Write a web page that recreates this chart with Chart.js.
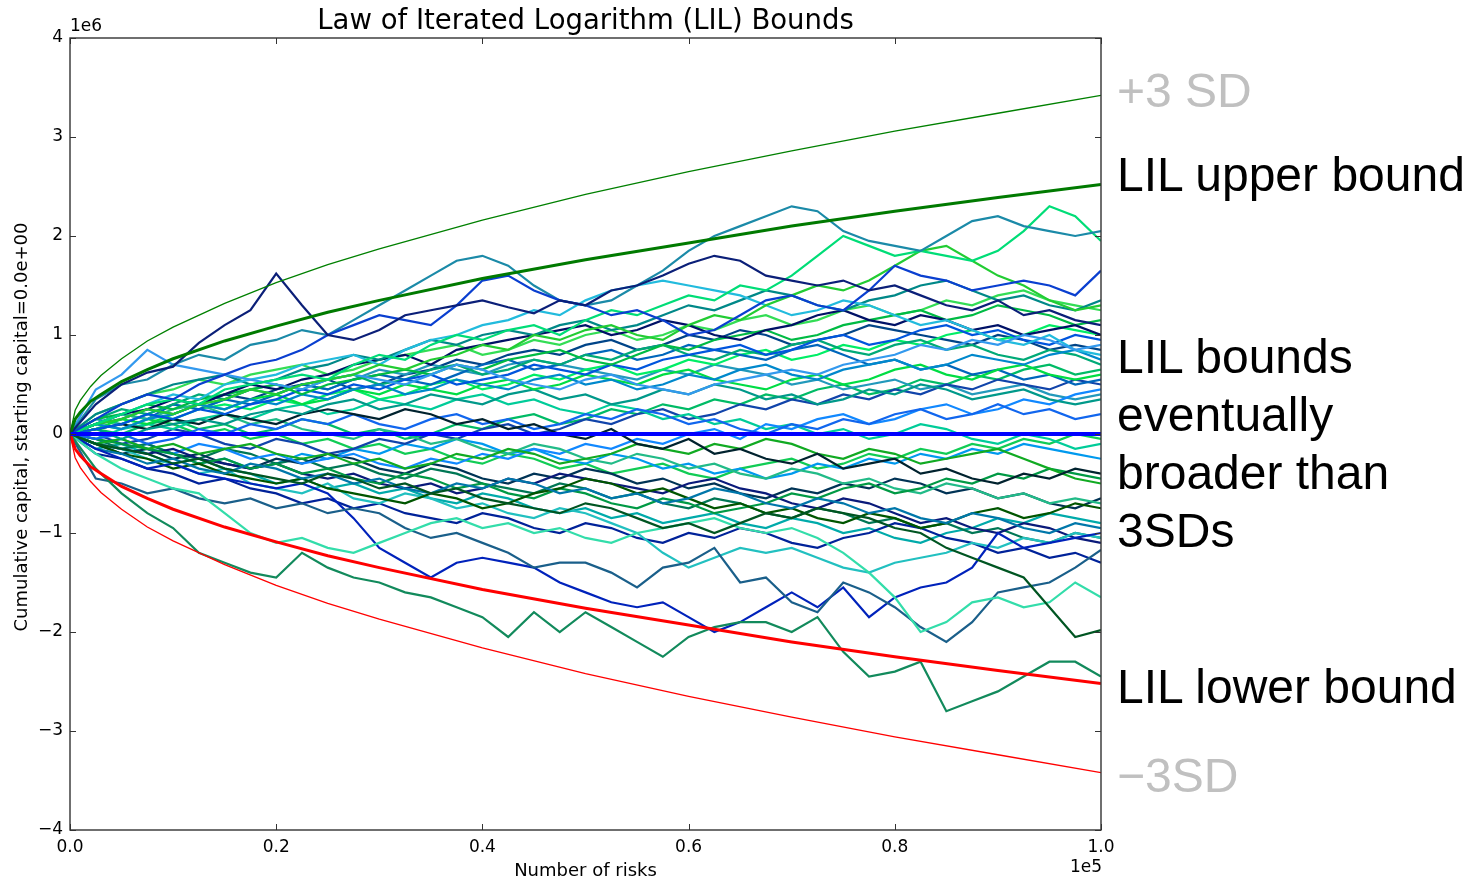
<!DOCTYPE html>
<html>
<head>
<title>Law of Iterated Logarithm (LIL) Bounds</title>
<style>
  body { margin: 0; background: #fff; }
  #wrap { position: relative; width: 1481px; height: 879px; }
  .note {
    position: absolute; left: 1117px; white-space: nowrap; color: #000;
    font-family: "Liberation Sans", Arial, sans-serif; font-size: 48px; line-height: 58px;
  }
  .grey { color: #c0c0c0; }
</style>
</head>
<body>
<div id="wrap">
  <canvas id="lilChart" width="1481" height="879"></canvas>
  <div class="note grey" style="top:62px">+3 SD</div>
  <div class="note" style="top:146px">LIL upper bound</div>
  <div class="note" style="top:328px">LIL bounds<br>eventually<br>broader than<br>3SDs</div>
  <div class="note" style="top:658px">LIL lower bound</div>
  <div class="note grey" style="top:747px">&minus;3SD</div>
</div>
<script src="https://cdn.jsdelivr.net/npm/chart.js"></script>
<script>
// x positions (number of risks) of the sampled walk points
const steps = [0,2500,5000,7500,10000,12500,15000,17500,20000,22500,
  25000,27500,30000,32500,35000,37500,40000,42500,45000,47500,
  50000,52500,55000,57500,60000,62500,65000,67500,70000,72500,
  75000,77500,80000,82500,85000,87500,90000,92500,95000,97500,100000];

// bound curves, values in units of 1e6
const boundSteps = [0,500,1000,2000,3000,5000,7500,10000,15000,20000,25000,30000,40000,50000,60000,70000,80000,90000,100000];
const plus3sd  = [0,0.24,0.34,0.48,0.59,0.76,0.94,1.08,1.32,1.53,1.71,1.87,2.16,2.42,2.65,2.86,3.06,3.24,3.42];
const lilUpper = [0,0.15,0.22,0.33,0.40,0.53,0.65,0.76,0.94,1.09,1.23,1.35,1.57,1.76,1.93,2.10,2.25,2.39,2.52];
const lilLower = [0,-0.15,-0.22,-0.33,-0.40,-0.53,-0.65,-0.76,-0.94,-1.09,-1.23,-1.35,-1.57,-1.76,-1.93,-2.10,-2.25,-2.39,-2.52];
const minus3sd = [0,-0.24,-0.34,-0.48,-0.59,-0.76,-0.94,-1.08,-1.32,-1.53,-1.71,-1.87,-2.16,-2.42,-2.65,-2.86,-3.06,-3.24,-3.42];
const meanSteps = [0, 100000];
const meanLine = [0, 0];

// simulated capital paths (1e6)
const walk01 = [0,0.3,0.5,0.62,0.68,0.92,1.1,1.25,1.62,1.3,1.0,0.95,1.05,1.2,1.25,1.3,1.35,1.28,1.22,1.35,1.3,1.45,1.5,1.6,1.72,1.8,1.75,1.6,1.55,1.5,1.55,1.45,1.5,1.4,1.3,1.25,1.35,1.2,1.25,1.15,1.1];
const walk02 = [0,0.15,0.3,0.4,0.35,0.5,0.6,0.7,0.75,0.85,1.0,1.1,1.2,1.15,1.1,1.3,1.55,1.6,1.45,1.35,1.3,1.2,1.25,1.15,1.0,1.05,1.2,1.35,1.4,1.3,1.25,1.45,1.7,1.6,1.55,1.45,1.5,1.55,1.5,1.4,1.65];
const walk03 = [0,0.35,0.5,0.55,0.7,0.8,0.75,0.9,0.95,1.05,1.0,1.15,1.3,1.45,1.6,1.75,1.8,1.7,1.5,1.35,1.3,1.35,1.5,1.65,1.85,2.0,2.1,2.2,2.3,2.25,2.05,1.95,1.9,1.85,2.0,2.15,2.2,2.1,2.05,2.0,2.05];
const walk04 = [0,0.1,0.2,0.3,0.35,0.3,0.45,0.5,0.55,0.6,0.55,0.7,0.8,0.75,0.9,1.0,0.95,1.05,1.1,1.0,1.15,1.25,1.2,1.3,1.4,1.35,1.5,1.45,1.6,1.8,2.0,1.9,1.8,1.85,1.8,1.75,1.85,2.05,2.3,2.2,1.95];
const walk05 = [0,0.1,0.15,0.25,0.2,0.3,0.35,0.45,0.4,0.5,0.55,0.6,0.7,0.65,0.75,0.8,0.9,0.85,1.0,0.95,1.05,1.1,1.0,0.95,1.1,1.2,1.15,1.3,1.4,1.5,1.45,1.55,1.7,1.85,1.9,1.75,1.6,1.5,1.35,1.25,1.3];
const walk06 = [0,-0.1,-0.15,-0.2,-0.3,-0.25,-0.35,-0.4,-0.45,-0.5,-0.4,-0.45,-0.55,-0.5,-0.6,-0.55,-0.65,-0.7,-0.75,-0.8,-0.7,-0.75,-0.85,-0.95,-0.9,-1.0,-0.9,-0.8,-0.85,-0.75,-0.8,-0.85,-0.95,-1.0,-1.15,-1.25,-1.35,-1.45,-1.75,-2.05,-1.98];
const walk07 = [0,-0.35,-0.6,-0.8,-0.95,-1.2,-1.3,-1.4,-1.45,-1.2,-1.35,-1.45,-1.5,-1.6,-1.65,-1.75,-1.85,-2.05,-1.8,-2.0,-1.8,-1.95,-2.1,-2.25,-2.05,-1.95,-1.9,-1.9,-2.0,-1.85,-2.2,-2.45,-2.4,-2.3,-2.8,-2.7,-2.6,-2.45,-2.3,-2.3,-2.45];
const walk08 = [0,-0.2,-0.35,-0.45,-0.55,-0.6,-0.8,-1.0,-1.1,-1.05,-1.15,-1.2,-1.1,-1.0,-0.9,-0.85,-0.95,-0.9,-1.0,-0.95,-1.05,-1.1,-1.0,-0.95,-0.9,-0.85,-0.95,-1.0,-0.95,-1.05,-1.2,-1.4,-1.65,-2.0,-1.9,-1.7,-1.65,-1.75,-1.7,-1.5,-1.65];
const walk09 = [0,-0.45,-0.5,-0.6,-0.55,-0.65,-0.7,-0.65,-0.75,-0.7,-0.8,-0.75,-0.8,-0.95,-1.05,-1.0,-1.1,-1.2,-1.35,-1.3,-1.3,-1.4,-1.55,-1.35,-1.3,-1.15,-1.5,-1.45,-1.7,-1.8,-1.5,-1.6,-1.75,-1.95,-2.1,-1.9,-1.6,-1.55,-1.5,-1.35,-1.17];
const walk10 = [0,-0.15,-0.25,-0.35,-0.3,-0.4,-0.45,-0.5,-0.55,-0.5,-0.6,-0.85,-1.15,-1.3,-1.45,-1.3,-1.25,-1.3,-1.35,-1.5,-1.6,-1.7,-1.75,-1.7,-1.85,-2.0,-1.9,-1.75,-1.6,-1.75,-1.55,-1.85,-1.65,-1.55,-1.5,-1.35,-1.0,-1.15,-1.1,-1.05,-1.0];
const walk11 = [0,0.45,0.6,0.85,0.7,0.65,0.6,0.55,0.5,0.45,0.55,0.6,0.55,0.5,0.6,0.7,0.65,0.55,0.5,0.45,0.55,0.6,0.5,0.45,0.4,0.5,0.55,0.6,0.65,0.6,0.7,0.75,0.8,0.9,0.85,0.95,0.9,1.0,0.95,0.85,0.9];
const walk12 = [0,0.1,0.2,0.3,0.4,0.35,0.5,0.55,0.6,0.7,0.75,0.8,0.7,0.85,0.95,1.0,1.1,1.15,1.25,1.2,1.35,1.45,1.5,1.55,1.5,1.45,1.4,1.3,1.2,1.25,1.35,1.3,1.2,1.1,1.15,1.05,0.95,0.9,1.0,0.85,0.8];
const walk13 = [0,0.2,0.3,0.4,0.5,0.55,0.6,0.5,0.55,0.65,0.7,0.8,0.75,0.85,0.95,0.9,1.0,1.05,1.0,1.1,1.15,1.05,1.1,1.2,1.3,1.25,1.35,1.45,1.4,1.3,1.25,1.35,1.4,1.5,1.55,1.45,1.35,1.4,1.3,1.25,1.35];
const walk14 = [0,0.1,0.2,0.25,0.35,0.3,0.4,0.5,0.45,0.55,0.6,0.7,0.75,0.8,0.7,0.85,0.9,0.95,1.0,1.05,1.1,1.0,1.05,1.15,1.1,1.0,0.95,1.05,1.1,1.2,1.25,1.15,1.1,1.2,1.15,1.05,1.1,1.0,1.05,1.1,1.0];
const walk15 = [0,0.15,0.2,0.3,0.25,0.35,0.4,0.45,0.5,0.4,0.5,0.55,0.6,0.65,0.6,0.7,0.65,0.75,0.8,0.85,0.75,0.7,0.8,0.9,0.85,0.95,1.0,1.05,0.95,1.0,1.1,1.15,1.2,1.25,1.15,1.2,1.3,1.25,1.2,1.1,1.15];
const walk16 = [0,0.05,0.1,0.2,0.15,0.25,0.2,0.3,0.35,0.45,0.4,0.5,0.45,0.55,0.6,0.5,0.55,0.6,0.7,0.65,0.6,0.7,0.65,0.75,0.8,0.85,0.9,0.8,0.85,0.95,1.0,0.9,0.95,1.05,1.1,1.0,1.05,0.95,0.9,1.0,0.95];
const walk17 = [0,0.1,0.05,0.15,0.2,0.3,0.25,0.35,0.3,0.4,0.35,0.45,0.5,0.4,0.45,0.55,0.5,0.45,0.55,0.6,0.5,0.55,0.45,0.5,0.6,0.55,0.65,0.7,0.6,0.55,0.65,0.7,0.75,0.65,0.7,0.8,0.75,0.7,0.8,0.85,0.75];
const walk18 = [0,0.05,0.15,0.1,0.2,0.3,0.25,0.35,0.4,0.3,0.35,0.45,0.4,0.5,0.45,0.4,0.5,0.55,0.45,0.5,0.6,0.55,0.5,0.6,0.65,0.55,0.5,0.45,0.55,0.6,0.5,0.55,0.65,0.7,0.6,0.55,0.65,0.7,0.6,0.55,0.6];
const walk19 = [0,0.05,-0.05,0.05,0.1,0.15,0.1,0.2,0.25,0.2,0.3,0.35,0.25,0.3,0.4,0.35,0.3,0.4,0.45,0.35,0.4,0.3,0.35,0.45,0.4,0.5,0.45,0.35,0.4,0.3,0.35,0.45,0.4,0.5,0.45,0.35,0.4,0.45,0.35,0.3,0.35];
const walk20 = [0,0.05,0.1,0.05,0.15,0.1,0.2,0.15,0.1,0.2,0.25,0.2,0.15,0.25,0.2,0.1,0.15,0.05,0.1,0.0,-0.05,0.05,-0.1,-0.15,-0.05,-0.2,-0.15,-0.25,-0.3,-0.2,-0.35,-0.3,-0.25,-0.4,-0.35,-0.45,-0.5,-0.4,-0.45,-0.35,-0.4];
const walk21 = [0,-0.05,0.0,-0.1,-0.05,0.05,0.0,0.1,0.05,0.15,0.1,0.2,0.1,0.05,0.15,0.2,0.1,0.15,0.05,0.1,0.2,0.15,0.25,0.2,0.1,0.15,0.05,0.0,0.1,0.05,0.15,0.1,0.2,0.25,0.15,0.2,0.3,0.2,0.25,0.15,0.2];
const walk22 = [0,-0.1,-0.05,-0.15,-0.1,-0.2,-0.15,-0.1,-0.2,-0.25,-0.2,-0.3,-0.25,-0.35,-0.3,-0.2,-0.25,-0.15,-0.2,-0.3,-0.25,-0.2,-0.1,-0.15,-0.2,-0.1,-0.15,-0.05,-0.1,-0.2,-0.25,-0.15,-0.2,-0.3,-0.25,-0.2,-0.15,-0.25,-0.35,-0.45,-0.5];
const walk23 = [0,-0.15,-0.2,-0.3,-0.25,-0.35,-0.4,-0.3,-0.35,-0.45,-0.4,-0.5,-0.45,-0.55,-0.6,-0.5,-0.55,-0.45,-0.5,-0.6,-0.55,-0.65,-0.6,-0.7,-0.65,-0.55,-0.6,-0.7,-0.75,-0.65,-0.7,-0.8,-0.75,-0.85,-0.9,-0.8,-0.85,-0.95,-1.0,-0.9,-0.95];
const walk24 = [0,-0.1,-0.2,-0.25,-0.35,-0.3,-0.4,-0.45,-0.5,-0.45,-0.55,-0.6,-0.65,-0.7,-0.6,-0.65,-0.75,-0.7,-0.6,-0.55,-0.45,-0.5,-0.6,-0.55,-0.65,-0.75,-0.7,-0.8,-0.75,-0.85,-0.9,-0.8,-0.85,-0.95,-0.9,-0.8,-0.75,-0.85,-0.8,-0.7,-0.75];
const walk25 = [0,-0.1,-0.15,-0.25,-0.3,-0.4,-0.35,-0.5,-0.55,-0.6,-0.5,-0.65,-0.7,-0.6,-0.65,-0.75,-0.7,-0.8,-0.85,-0.75,-0.8,-0.9,-1.0,-1.2,-1.35,-1.25,-1.15,-1.2,-1.15,-1.25,-1.35,-1.4,-1.3,-1.25,-1.2,-1.1,-1.15,-1.05,-1.1,-1.0,-1.05];
const walk26 = [0,-0.05,-0.1,-0.15,-0.2,-0.3,-0.25,-0.35,-0.3,-0.4,-0.35,-0.45,-0.5,-0.4,-0.45,-0.55,-0.5,-0.6,-0.65,-0.55,-0.6,-0.7,-0.75,-0.65,-0.7,-0.8,-0.75,-0.7,-0.6,-0.65,-0.55,-0.5,-0.6,-0.55,-0.45,-0.5,-0.4,-0.45,-0.35,-0.4,-0.45];
const walk27 = [0,-0.1,-0.15,-0.2,-0.15,-0.25,-0.3,-0.35,-0.3,-0.4,-0.45,-0.4,-0.5,-0.55,-0.5,-0.6,-0.55,-0.45,-0.5,-0.4,-0.45,-0.5,-0.55,-0.6,-0.5,-0.45,-0.55,-0.6,-0.7,-0.75,-0.65,-0.7,-0.8,-0.9,-0.85,-0.95,-1.0,-0.9,-0.95,-1.05,-1.1];
const walk28 = [0,0.1,0.2,0.15,0.25,0.3,0.2,0.1,0.15,0.05,0.0,-0.05,0.05,0.0,-0.1,-0.05,-0.15,-0.2,-0.1,-0.15,-0.25,-0.3,-0.2,-0.25,-0.35,-0.3,-0.4,-0.45,-0.35,-0.4,-0.5,-0.45,-0.55,-0.6,-0.5,-0.55,-0.65,-0.6,-0.7,-0.65,-0.7];
const walk29 = [0,-0.1,-0.05,-0.15,-0.2,-0.1,-0.15,-0.25,-0.2,-0.3,-0.25,-0.2,-0.3,-0.35,-0.25,-0.3,-0.2,-0.25,-0.15,-0.2,-0.1,-0.15,-0.05,-0.1,0.0,0.05,-0.05,0.1,0.05,0.15,0.2,0.1,0.15,0.25,0.3,0.2,0.25,0.35,0.3,0.4,0.45];
const walk30 = [0,0.2,0.3,0.4,0.45,0.55,0.5,0.6,0.65,0.7,0.6,0.65,0.75,0.8,0.85,0.9,0.8,0.85,0.95,0.9,1.0,1.05,0.95,1.0,1.1,1.05,1.15,1.2,1.1,1.15,1.25,1.3,1.2,1.25,1.35,1.3,1.4,1.45,1.35,1.3,1.25];
const walk31 = [0,-0.2,-0.25,-0.35,-0.4,-0.5,-0.45,-0.55,-0.6,-0.7,-0.65,-0.75,-0.7,-0.8,-0.85,-0.9,-0.8,-0.85,-0.95,-1.0,-0.9,-0.95,-1.05,-1.1,-1.0,-1.05,-0.95,-1.0,-1.1,-1.15,-1.05,-1.0,-0.9,-0.95,-1.05,-1.1,-1.2,-1.15,-1.25,-1.2,-1.3];
const walk32 = [0,0.15,0.25,0.2,0.3,0.4,0.35,0.45,0.5,0.45,0.55,0.6,0.5,0.55,0.65,0.7,0.6,0.65,0.75,0.7,0.8,0.75,0.85,0.9,0.8,0.75,0.85,0.8,0.9,0.95,0.85,0.8,0.9,0.95,0.85,0.9,0.8,0.75,0.85,0.8,0.7];
const walk33 = [0,0.1,0.2,0.15,0.3,0.25,0.35,0.3,0.4,0.5,0.45,0.55,0.6,0.55,0.5,0.6,0.7,0.75,0.65,0.7,0.8,0.85,0.75,0.8,0.9,0.85,0.8,0.75,0.85,0.9,0.8,0.7,0.75,0.65,0.7,0.6,0.65,0.55,0.6,0.5,0.55];
const walk34 = [0,-0.05,0.05,0.1,0.05,0.15,0.2,0.15,0.25,0.3,0.2,0.25,0.35,0.3,0.25,0.35,0.4,0.3,0.35,0.25,0.2,0.3,0.25,0.15,0.2,0.1,0.15,0.05,0.1,0.0,0.05,-0.05,0.0,0.1,0.05,-0.05,-0.1,0.0,-0.05,-0.15,-0.1];
const walk35 = [0,-0.1,-0.2,-0.15,-0.25,-0.2,-0.3,-0.35,-0.25,-0.3,-0.2,-0.25,-0.35,-0.4,-0.3,-0.35,-0.45,-0.5,-0.4,-0.45,-0.35,-0.4,-0.5,-0.45,-0.55,-0.5,-0.6,-0.65,-0.55,-0.6,-0.5,-0.55,-0.45,-0.5,-0.6,-0.55,-0.65,-0.6,-0.7,-0.75,-0.65];
const walk36 = [0,0.05,0.1,0.2,0.15,0.25,0.3,0.25,0.35,0.3,0.4,0.45,0.35,0.4,0.5,0.55,0.45,0.5,0.6,0.55,0.65,0.7,0.6,0.65,0.75,0.7,0.8,0.85,0.75,0.8,0.9,0.85,0.95,0.9,1.0,1.05,0.95,1.0,1.1,1.05,1.0];
const walk37 = [0,0.0,-0.1,-0.05,0.05,0.0,-0.1,-0.15,-0.05,-0.1,-0.2,-0.15,-0.05,-0.1,0.0,-0.05,0.05,0.1,0.0,0.05,0.15,0.1,0.2,0.25,0.15,0.2,0.3,0.25,0.35,0.3,0.4,0.35,0.45,0.4,0.5,0.45,0.55,0.5,0.45,0.55,0.5];
const walk38 = [0,0.15,0.1,0.2,0.3,0.25,0.35,0.45,0.4,0.5,0.45,0.55,0.65,0.6,0.7,0.65,0.6,0.7,0.75,0.7,0.65,0.6,0.55,0.65,0.6,0.7,0.65,0.6,0.5,0.55,0.45,0.5,0.55,0.45,0.5,0.4,0.45,0.5,0.4,0.35,0.4];
const walk39 = [0,-0.05,-0.15,-0.1,-0.2,-0.25,-0.15,-0.2,-0.3,-0.25,-0.35,-0.3,-0.4,-0.45,-0.35,-0.4,-0.5,-0.55,-0.6,-0.5,-0.55,-0.65,-0.6,-0.7,-0.75,-0.65,-0.7,-0.8,-0.85,-0.75,-0.8,-0.9,-0.85,-0.95,-0.9,-1.0,-0.95,-1.05,-1.1,-1.0,-1.05];
const walk40 = [0,-0.1,-0.15,-0.1,-0.2,-0.3,-0.25,-0.35,-0.3,-0.2,-0.25,-0.15,-0.2,-0.1,-0.15,-0.05,-0.1,-0.2,-0.15,-0.25,-0.3,-0.2,-0.25,-0.35,-0.3,-0.4,-0.35,-0.45,-0.4,-0.3,-0.35,-0.25,-0.3,-0.2,-0.25,-0.15,-0.2,-0.1,-0.15,-0.2,-0.25];
const walk41 = [0,0.05,0.0,0.1,0.15,0.05,0.1,0.0,0.05,0.15,0.1,0.0,0.05,-0.05,0.0,0.1,0.05,0.15,0.2,0.1,0.15,0.25,0.2,0.3,0.25,0.35,0.3,0.4,0.35,0.45,0.5,0.4,0.45,0.55,0.5,0.6,0.55,0.65,0.7,0.6,0.65];
const walk42 = [0,0.1,0.15,0.25,0.2,0.3,0.4,0.35,0.45,0.5,0.55,0.45,0.5,0.6,0.65,0.75,0.7,0.8,0.85,0.8,0.9,0.95,0.85,0.9,1.0,0.95,1.05,1.0,0.9,0.95,1.0,1.1,1.05,1.0,0.95,0.9,1.0,0.95,0.85,0.9,0.85];
const walk43 = [0,-0.15,-0.1,-0.2,-0.3,-0.25,-0.35,-0.4,-0.5,-0.45,-0.55,-0.5,-0.6,-0.55,-0.65,-0.7,-0.6,-0.65,-0.75,-0.8,-0.75,-0.85,-0.8,-0.9,-0.85,-0.8,-0.9,-0.95,-0.85,-0.9,-1.0,-0.95,-1.05,-1.1,-1.0,-0.95,-0.85,-0.9,-0.8,-0.85,-0.9];
const walk44 = [0,0.1,0.05,0.15,0.1,0.0,0.05,-0.05,0.0,-0.1,-0.05,-0.15,-0.1,-0.2,-0.15,-0.25,-0.3,-0.2,-0.25,-0.35,-0.3,-0.4,-0.35,-0.3,-0.4,-0.45,-0.35,-0.3,-0.25,-0.35,-0.3,-0.2,-0.25,-0.15,-0.2,-0.1,-0.15,-0.05,-0.1,0.0,-0.05];

const walks = [walk01,walk02,walk03,walk04,walk05,walk06,walk07,walk08,walk09,walk10,
  walk11,walk12,walk13,walk14,walk15,walk16,walk17,walk18,walk19,walk20,
  walk21,walk22,walk23,walk24,walk25,walk26,walk27,walk28,walk29,walk30,
  walk31,walk32,walk33,walk34,walk35,walk36,walk37,walk38,walk39,walk40,
  walk41,walk42,walk43,walk44];
const walkColors = ['#0b1f78','#0a3fd0','#1b8aa8','#00dd77','#22cc33','#005522','#128a5c','#33ddaa',
  '#1a5f8a','#0022bb','#3399ee','#22bbdd','#008888','#001166','#00bb44','#0055dd',
  '#0088cc','#00dd44','#00998a','#00222e','#1166ee','#11aa22','#0077aa','#005500',
  '#22c0c0','#009944','#0a1a7a','#22bb88','#1188ff','#33dd55','#002299','#00aa77',
  '#0066bb','#00cc99','#003355','#00ee66','#1144aa','#2299bb','#007755','#0099ee',
  '#00bb66','#004488','#00aaaa','#11cc55'];

const xTicks = [0, 20000, 40000, 60000, 80000, 100000];
const yTicks = [-4, -3, -2, -1, 0, 1, 2, 3, 4];

function toPoints(xs, ys) {
  return xs.map((x, i) => ({ x: x, y: ys[i] }));
}

const datasets = [
  { data: toPoints(meanSteps, meanLine), borderColor: '#0000ff', borderWidth: 4 },
  { data: toPoints(boundSteps, lilUpper), borderColor: '#007a00', borderWidth: 3 },
  { data: toPoints(boundSteps, lilLower), borderColor: '#ff0000', borderWidth: 3 },
  { data: toPoints(boundSteps, plus3sd), borderColor: '#008000', borderWidth: 1.3 },
  { data: toPoints(boundSteps, minus3sd), borderColor: '#ff0000', borderWidth: 1.3 },
];
walks.forEach((w, i) => {
  datasets.push({ data: toPoints(steps, w), borderColor: walkColors[i], borderWidth: 2.2 });
});

const tickFont = { family: 'DejaVu Sans', size: 17 };

// frame, inward ticks and the matplotlib-style texts
const framePlugin = {
  id: 'framePlugin',
  afterDraw(chart) {
    const ctx = chart.ctx;
    const a = chart.chartArea;
    const xs = chart.scales.x, ys = chart.scales.y;
    ctx.save();
    ctx.strokeStyle = '#333';
    ctx.lineWidth = 1;
    ctx.beginPath();
    yTicks.forEach(v => {
      const py = Math.round(ys.getPixelForValue(v)) + 0.5;
      ctx.moveTo(a.left, py); ctx.lineTo(a.left + 6, py);
      ctx.moveTo(a.right, py); ctx.lineTo(a.right - 6, py);
    });
    xTicks.forEach(v => {
      const px = Math.round(xs.getPixelForValue(v)) + 0.5;
      ctx.moveTo(px, a.bottom); ctx.lineTo(px, a.bottom - 6);
      ctx.moveTo(px, a.top); ctx.lineTo(px, a.top + 6);
    });
    ctx.stroke();
    ctx.lineWidth = 1.4;
    ctx.strokeRect(a.left, a.top, a.right - a.left, a.bottom - a.top);

    const cx = (a.left + a.right) / 2;
    ctx.fillStyle = '#000';
    ctx.textBaseline = 'middle';
    ctx.textAlign = 'center';
    ctx.font = '27.5px "DejaVu Sans"';
    ctx.fillText('Law of Iterated Logarithm (LIL) Bounds', cx, 22);
    ctx.font = '18px "DejaVu Sans"';
    ctx.fillText('Number of risks', cx, 871);
    ctx.font = '17px "DejaVu Sans"';
    ctx.textAlign = 'left';
    ctx.fillText('1e6', a.left, 27);
    ctx.textAlign = 'right';
    ctx.fillText('1e5', a.right + 1, 868);
    ctx.translate(22, 427);
    ctx.rotate(-Math.PI / 2);
    ctx.textAlign = 'center';
    ctx.font = '18px "DejaVu Sans"';
    ctx.fillText('Cumulative capital, starting capital=0.0e+00', 0, 0);
    ctx.restore();
  }
};

new Chart(document.getElementById('lilChart').getContext('2d'), {
  type: 'line',
  data: { datasets: datasets },
  options: {
    responsive: false,
    animation: false,
    events: [],
    layout: { padding: { left: 0, top: 38, right: 380, bottom: 0 } },
    elements: { point: { radius: 0 }, line: { tension: 0 } },
    plugins: { legend: { display: false }, tooltip: { enabled: false }, title: { display: false } },
    scales: {
      x: {
        type: 'linear', min: 0, max: 100000,
        grid: { display: false, drawTicks: false },
        border: { display: false },
        ticks: {
          stepSize: 20000, autoSkip: false, maxRotation: 0, padding: 7,
          color: '#000', font: tickFont,
          callback: v => (v / 1e5).toFixed(1)
        },
        afterFit: s => { s.height = 49; }
      },
      y: {
        type: 'linear', min: -4, max: 4,
        grid: { display: false, drawTicks: false },
        border: { display: false },
        ticks: {
          stepSize: 1, autoSkip: false, padding: 7,
          color: '#000', font: tickFont,
          callback: v => (v < 0 ? '\u2212' + Math.abs(v) : String(v))
        },
        afterFit: s => { s.width = 70; }
      }
    }
  },
  plugins: [framePlugin]
});
</script>
</body>
</html>
